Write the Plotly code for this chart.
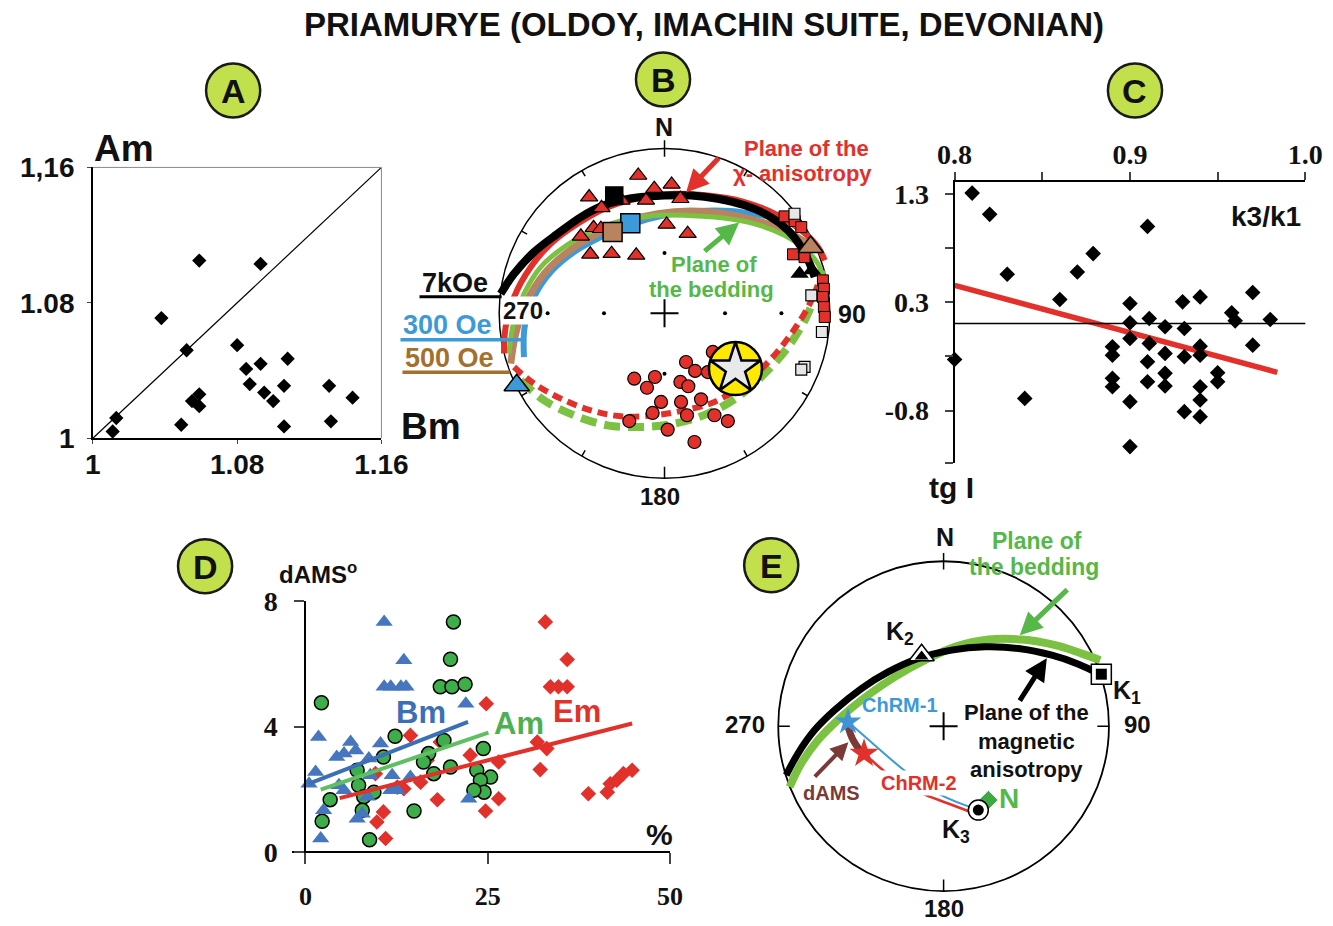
import math
import plotly.graph_objects as go

W, H = 1333, 926
SANS = "Liberation Sans, Arial, sans-serif"
SERIF = "Liberation Serif, Times New Roman, serif"

# ---------------- Panel A data (Bm vs Am) ----------------
A_bm = [1.059, 1.093, 1.038, 1.052, 1.080, 1.085, 1.093, 1.108, 1.087, 1.095, 1.106,
        1.100, 1.131, 1.144, 1.132, 1.106, 1.059, 1.055, 1.059, 1.049, 1.013, 1.011]
A_am = [1.105, 1.103, 1.071, 1.052, 1.055, 1.041, 1.044, 1.047, 1.032, 1.027, 1.031,
        1.022, 1.031, 1.024, 1.010, 1.007, 1.026, 1.022, 1.019, 1.008, 1.012, 1.004]
A_diag = [1.0, 1.16]
A_ticks = [1.0, 1.08, 1.16]
A_xlabels = ["1", "1.08", "1.16"]
A_ylabels = ["1", "1.08", "1,16"]

# ---------------- Panel C data (k3/k1 vs tg I) ----------------
C_k = [0.810, 0.820, 0.910, 0.879, 0.870, 0.830, 0.860, 0.900, 0.940, 0.970, 0.930,
       0.958, 0.960, 0.980, 0.900, 0.911, 0.920, 0.931, 0.900, 0.911, 0.890, 0.940,
       0.970, 0.920, 0.931, 0.940, 0.890, 0.910, 0.800, 0.950, 0.920, 0.890, 0.890,
       0.910, 0.920, 0.950, 0.940, 0.940, 0.900, 0.931, 0.940, 0.840, 0.900]
C_tg = [1.306, 1.110, 0.999, 0.748, 0.579, 0.558, 0.325, 0.288, 0.349, 0.389, 0.303,
        0.202, 0.128, 0.140, 0.110, 0.150, 0.073, 0.058, -0.034, -0.080, -0.111, -0.105,
        -0.096, -0.172, -0.203, -0.188, -0.188, -0.249, -0.228, -0.350, -0.356, -0.402, -0.479,
        -0.433, -0.473, -0.433, -0.479, -0.602, -0.617, -0.709, -0.755, -0.587, -1.031]
C_fit_x = [0.800, 0.984]
C_fit_y = [0.456, -0.347]
C_ref_y = 0.104
C_xticks = [0.8, 0.85, 0.9, 0.95, 1.0]
C_xlabels = ["0.8", "", "0.9", "", "1.0"]
C_yticks = [1.3, 0.8, 0.3, -0.2, -0.7, -1.185]
C_ylabels = ["1.3", "", "0.3", "", "-0.8", ""]

# ---------------- Panel D data (% vs dAMS) ----------------
Bm_x = [10.8, 13.5, 10.8, 11.7, 13.1, 13.8, 22.0, 1.8, 6.2, 5.3, 4.3, 6.9, 10.3, 8.7, 1.4,
        0.5, 4.6, 5.3, 8.9, 11.9, 14.4, 12.6, 11.7, 8.5, 7.8, 7.1, 2.5, 2.1, 22.4]
Bm_y = [7.34, 6.12, 5.27, 5.27, 5.27, 5.27, 4.73, 3.67, 3.51, 3.14, 3.03, 3.24, 3.46, 2.98, 2.55,
        2.18, 2.13, 1.97, 2.45, 2.45, 2.39, 1.97, 1.97, 1.76, 1.22, 1.06, 1.33, 0.43, 1.70]
Am_x = [20.3, 19.9, 18.5, 20.1, 21.9, 2.2, 12.3, 19.0, 16.9, 16.2, 17.6, 19.9, 24.4, 23.5,
        25.4, 24.0, 24.5, 23.1, 10.7, 7.1, 7.3, 9.4, 8.0, 3.4, 14.9, 7.8, 2.3, 8.8]
Am_y = [7.34, 6.15, 5.27, 5.27, 5.35, 4.76, 3.69, 3.56, 3.14, 2.87, 2.50, 2.71, 3.30, 2.61,
        2.39, 2.29, 1.91, 1.97, 3.03, 2.61, 2.13, 1.91, 1.76, 1.67, 1.31, 1.33, 0.98, 0.39]
Em_x = [32.9, 35.9, 33.6, 34.7, 35.9, 24.8, 14.4, 18.5, 31.8, 33.1, 26.5, 22.6, 16.7, 32.2,
        15.8, 13.5, 12.6, 9.6, 18.1, 26.5, 24.7, 10.7, 9.8, 11.0, 38.8, 41.4, 41.8, 42.7, 43.6, 44.8]
Em_y = [7.34, 6.14, 5.27, 5.27, 5.27, 4.73, 3.72, 3.51, 3.51, 3.30, 2.87, 3.09, 2.93, 2.63,
        2.23, 2.02, 2.07, 2.50, 1.67, 1.70, 1.31, 1.28, 0.96, 0.43, 1.86, 1.91, 2.18, 2.29, 2.50, 2.61]
Bm_fit = ([0.5, 22.3], [2.18, 4.15])
Am_fit = ([2.1, 25.1], [1.99, 3.81])
Em_fit = ([4.7, 44.8], [1.72, 4.10])
D_xticks = [0, 25, 50]
D_yticks = [0, 4, 8]

# ---------------- Panel B data (stereonet, projected x=E, y=N, unit circle) ----------------
B_tri_x = [-0.159, -0.456, -0.381, -0.304, -0.260, -0.112, -0.062, 0.043, 0.096, -0.506,
           -0.429, -0.385, -0.449, -0.320, -0.171, 0.013, 0.140]
B_tri_y = [0.836, 0.705, 0.640, 0.685, 0.685, 0.685, 0.756, 0.782, 0.695, 0.467,
           0.519, 0.513, 0.358, 0.362, 0.352, 0.539, 0.483]
B_circ_x = [0.130, 0.292, 0.185, 0.262, -0.183, -0.058, -0.106, 0.096, 0.144, -0.021,
            0.100, 0.221, -0.072, 0.136, 0.302, 0.383, -0.213, 0.019, 0.181]
B_circ_y = [-0.295, -0.234, -0.349, -0.356, -0.396, -0.386, -0.451, -0.416, -0.442, -0.537,
            -0.537, -0.521, -0.604, -0.618, -0.618, -0.653, -0.653, -0.705, -0.780]
B_rsq_x = [0.726, 0.787, 0.827, 0.777, 0.847, 0.958, 0.964, 0.958, 0.964, 0.969]
B_rsq_y = [0.588, 0.560, 0.523, 0.358, 0.341, 0.200, 0.149, 0.099, 0.038, -0.022]
B_gsq_x = [0.786, 0.888, 0.952, 0.847, 0.827]
B_gsq_y = [0.604, 0.109, -0.113, -0.325, -0.341]
B_btri_x = [0.817, 0.892]
B_btri_y = [0.240, 0.261]
B_mean_7k = (-0.304, 0.715)
B_mean_300 = (-0.207, 0.547)
B_mean_500 = (-0.314, 0.493)
B_tri_500 = (0.884, 0.402)
B_tri_300 = (-0.894, -0.436)
B_star = (0.429, -0.335)
B_grat_r = [0.366, 0.707]

B_black = ([-0.991, -0.910, -0.789, -0.647, -0.506, -0.385, -0.264, -0.142, -0.001, 0.161, 0.322,
            0.484, 0.625, 0.747, 0.827, 0.878, 0.908],
           [0.119, 0.240, 0.372, 0.483, 0.584, 0.648, 0.685, 0.705, 0.715, 0.715, 0.695,
            0.655, 0.594, 0.503, 0.402, 0.301, 0.220])
B_red = ([-0.971, -0.961, -0.910, -0.809, -0.688, -0.526, -0.344, -0.142, 0.059, 0.262, 0.464,
          0.666, 0.827, 0.928, 0.969],
         [-0.244, -0.083, 0.099, 0.281, 0.422, 0.543, 0.644, 0.701, 0.725, 0.715, 0.681,
          0.604, 0.503, 0.402, 0.321])
B_green = ([-0.941, -0.910, -0.850, -0.749, -0.607, -0.446, -0.264, -0.062, 0.140, 0.343, 0.545,
            0.726, 0.847, 0.928, 0.958],
           [-0.244, -0.042, 0.119, 0.281, 0.402, 0.493, 0.560, 0.594, 0.594, 0.580, 0.543,
            0.473, 0.392, 0.301, 0.220])
B_brown = ([-0.930, -0.900, -0.839, -0.728, -0.587, -0.425, -0.244, -0.041, 0.161, 0.363, 0.565,
            0.747, 0.868],
           [-0.305, -0.123, 0.059, 0.240, 0.372, 0.473, 0.554, 0.604, 0.620, 0.604, 0.560,
            0.493, 0.422])
B_blue = ([-0.850, -0.846, -0.789, -0.688, -0.547, -0.385, -0.203, -0.001, 0.201, 0.403, 0.585, 0.726],
          [-0.265, -0.083, 0.099, 0.251, 0.372, 0.463, 0.539, 0.594, 0.620, 0.620, 0.594, 0.564])
B_red_dash = ([-0.910, -0.789, -0.627, -0.446, -0.264, -0.062, 0.120, 0.302, 0.484, 0.646, 0.767,
               0.868, 0.928],
              [-0.325, -0.426, -0.517, -0.588, -0.624, -0.618, -0.588, -0.537, -0.426, -0.275,
               -0.123, 0.038, 0.170])
B_green_dash = ([-0.870, -0.729, -0.547, -0.345, -0.143, 0.060, 0.262, 0.443, 0.605, 0.747, 0.858,
                 0.928, 0.952],
                [-0.406, -0.527, -0.618, -0.679, -0.689, -0.669, -0.608, -0.507, -0.366, -0.204,
                 -0.022, 0.160, 0.261])

# ---------------- Panel E data ----------------
E_black = ([-0.952, -0.881, -0.780, -0.659, -0.497, -0.335, -0.154, 0.048, 0.251, 0.453, 0.655,
            0.816, 0.937],
           [-0.297, -0.166, -0.024, 0.097, 0.228, 0.329, 0.410, 0.461, 0.481, 0.471, 0.430,
            0.376, 0.319])
E_green = ([-0.931, -0.861, -0.760, -0.618, -0.457, -0.295, -0.113, 0.069, 0.271, 0.473, 0.675,
            0.836, 0.947],
           [-0.368, -0.226, -0.085, 0.057, 0.188, 0.299, 0.400, 0.481, 0.525, 0.525, 0.491,
            0.440, 0.400])
E_K1 = (0.954, 0.315)
E_K2 = (-0.133, 0.430)
E_K3 = (0.210, -0.509)
E_N = (0.271, -0.448)
E_chrm1 = (-0.578, 0.026)
E_chrm2 = (-0.481, -0.166)
E_dams = ([-0.578, -0.547, -0.507], [-0.004, -0.085, -0.145])
E_blue_path = ([-0.578, -0.406, -0.234, -0.053, 0.129, 0.210], [0.026, -0.125, -0.271, -0.398, -0.479, -0.505])
E_red_path = ([-0.481, -0.366, -0.255, -0.133, 0.028, 0.160], [-0.166, -0.267, -0.347, -0.408, -0.469, -0.519])

# ---------------- colours ----------------
RED = "#e2302a"
GREEN_L = "#7cc242"
GREEN_T = "#55b848"
BLUE_S = "#3d9ad8"
BROWN = "#b8835e"
BROWN_T = "#a2712e"
BLUE_D = "#4676bd"
GREEN_D = "#3eae4a"
LABEL_FILL = "#c2df4c"
DAMS = "#7a3a36"

# page calibration (plot area as it is rendered in the viewer window)
OX, OY = 25.3, 22.5
WE, HE = W * 0.965, H * 0.967


def PX(x):
    return (x - OX) / WE


def PY(y):
    return 1 - (y - OY) / HE


def dx(p0, p1):
    return [PX(p0), PX(p1)]


def dy(p0, p1):
    return [PY(p1), PY(p0)]


fig = go.Figure()

# ---------- Panel A ----------
fig.add_trace(go.Scatter(x=A_diag, y=A_diag, mode="lines", line=dict(color="black", width=1.2),
                         xaxis="x", yaxis="y", hoverinfo="skip"))
fig.add_trace(go.Scatter(x=A_bm, y=A_am, mode="markers", xaxis="x", yaxis="y",
                         marker=dict(symbol="diamond", size=11, color="black"), cliponaxis=False))

# ---------- Panel C ----------
fig.add_trace(go.Scatter(x=C_fit_x, y=C_fit_y, mode="lines", line=dict(color=RED, width=5.5),
                         xaxis="x3", yaxis="y3"))
fig.add_trace(go.Scatter(x=C_k, y=C_tg, mode="markers", xaxis="x3", yaxis="y3",
                         marker=dict(symbol="diamond", size=12, color="black"), cliponaxis=False))

# ---------- Panel D ----------
fig.add_trace(go.Scatter(x=Em_x, y=Em_y, mode="markers", xaxis="x4", yaxis="y4", cliponaxis=False,
                         marker=dict(symbol="diamond", size=12, color=RED)))
fig.add_trace(go.Scatter(x=Am_x, y=Am_y, mode="markers", xaxis="x4", yaxis="y4", cliponaxis=False,
                         marker=dict(symbol="circle", size=14, color=GREEN_D,
                                     line=dict(color="black", width=1.5))))
fig.add_trace(go.Scatter(x=Bm_x, y=Bm_y, mode="markers", xaxis="x4", yaxis="y4", cliponaxis=False,
                         marker=dict(symbol="triangle-up", size=15, color=BLUE_D)))
for (fx, fy), col in [(Bm_fit, "#3b6fb6"), (Am_fit, "#5fbf62"), (Em_fit, RED)]:
    fig.add_trace(go.Scatter(x=fx, y=fy, mode="lines", line=dict(color=col, width=4),
                             xaxis="x4", yaxis="y4"))


# ---------- stereonet frame helper ----------
def stereo_frame(ax, ay, tick_dirs, minor=True):
    tx, ty = [], []
    for az, inner, outer in tick_dirs:
        a = math.radians(az)
        tx += [inner * math.sin(a), outer * math.sin(a), None]
        ty += [inner * math.cos(a), outer * math.cos(a), None]
    if minor:
        for az in [30, 60, 120, 150, 210, 240, 300, 330]:
            a = math.radians(az)
            tx += [0.96 * math.sin(a), 1.0 * math.sin(a), None]
            ty += [0.96 * math.cos(a), 1.0 * math.cos(a), None]
    fig.add_trace(go.Scatter(x=tx, y=ty, mode="lines", line=dict(color="black", width=1.5),
                             xaxis=ax, yaxis=ay, hoverinfo="skip"))
    fig.add_trace(go.Scatter(x=[0], y=[0], mode="markers", xaxis=ax, yaxis=ay,
                             marker=dict(symbol="cross-thin", size=20,
                                         line=dict(color="black", width=2))))


# ---------- Panel B ----------
stereo_frame("x2", "y2", [(0, 0.95, 1.05), (180, 0.93, 1.0), (90, 0.95, 1.0)])
grat_x = [B_grat_r[0], B_grat_r[1], -B_grat_r[0], -B_grat_r[1], 0, 0, 0, 0]
grat_y = [0, 0, 0, 0, B_grat_r[0], B_grat_r[1], -B_grat_r[0], -B_grat_r[1]]
fig.add_trace(go.Scatter(x=grat_x, y=grat_y, mode="markers", xaxis="x2", yaxis="y2",
                         marker=dict(size=4, color="black")))

fig.add_trace(go.Scatter(x=B_green_dash[0], y=B_green_dash[1], mode="lines", xaxis="x2", yaxis="y2",
                         line=dict(color=GREEN_L, width=8, dash="16px,8px", shape="spline")))
fig.add_trace(go.Scatter(x=B_red_dash[0], y=B_red_dash[1], mode="lines", xaxis="x2", yaxis="y2",
                         line=dict(color=RED, width=6, dash="10px,6px", shape="spline")))
for (cx, cy), col, wd in [(B_blue, BLUE_S, 6), (B_brown, BROWN, 7), (B_green, GREEN_L, 5),
                          (B_red, RED, 6), (B_black, "black", 8)]:
    fig.add_trace(go.Scatter(x=cx, y=cy, mode="lines", xaxis="x2", yaxis="y2",
                             line=dict(color=col, width=wd, shape="spline")))

fig.add_trace(go.Scatter(x=B_circ_x, y=B_circ_y, mode="markers", xaxis="x2", yaxis="y2", cliponaxis=False,
                         marker=dict(symbol="circle", size=13, color=RED, line=dict(color="black", width=1.2))))
fig.add_trace(go.Scatter(x=B_tri_x, y=B_tri_y, mode="markers", xaxis="x2", yaxis="y2", cliponaxis=False,
                         marker=dict(symbol="triangle-up", size=15, color=RED, line=dict(color="black", width=1.2))))
fig.add_trace(go.Scatter(x=B_btri_x, y=B_btri_y, mode="markers", xaxis="x2", yaxis="y2", cliponaxis=False,
                         marker=dict(symbol="triangle-up", size=16, color="black")))
fig.add_trace(go.Scatter(x=B_rsq_x, y=B_rsq_y, mode="markers", xaxis="x2", yaxis="y2", cliponaxis=False,
                         marker=dict(symbol="square", size=11, color=RED, line=dict(color="black", width=1))))
fig.add_trace(go.Scatter(x=B_gsq_x, y=B_gsq_y, mode="markers", xaxis="x2", yaxis="y2", cliponaxis=False,
                         marker=dict(symbol="square", size=11, color="#e6e6e6", line=dict(color="black", width=1.2))))
for (px_, py_), sym, col, sz in [(B_mean_7k, "square", "black", 17), (B_mean_300, "square", BLUE_S, 19),
                                 (B_mean_500, "square", BROWN, 19), (B_tri_500, "triangle-up", BROWN, 22),
                                 (B_tri_300, "triangle-up", BLUE_S, 22)]:
    fig.add_trace(go.Scatter(x=[px_], y=[py_], mode="markers", xaxis="x2", yaxis="y2", cliponaxis=False,
                             marker=dict(symbol=sym, size=sz, color=col, line=dict(color="black", width=1.5))))
fig.add_trace(go.Scatter(x=[B_star[0]], y=[B_star[1]], mode="markers", xaxis="x2", yaxis="y2", cliponaxis=False,
                         marker=dict(symbol="circle", size=53, color="#ffe900", line=dict(color="black", width=2.5))))
fig.add_trace(go.Scatter(x=[B_star[0]], y=[B_star[1]], mode="markers", xaxis="x2", yaxis="y2", cliponaxis=False,
                         marker=dict(symbol="star", size=38, color="#e8e9eb", line=dict(color="black", width=2.5))))

# ---------- Panel E ----------
stereo_frame("x5", "y5", [(0, 0.95, 1.05), (180, 0.93, 1.0), (90, 0.93, 1.0), (270, 0.93, 1.0)], minor=False)
fig.add_trace(go.Scatter(x=E_green[0], y=E_green[1], mode="lines", xaxis="x5", yaxis="y5",
                         line=dict(color=GREEN_L, width=8, shape="spline")))
fig.add_trace(go.Scatter(x=E_black[0], y=E_black[1], mode="lines", xaxis="x5", yaxis="y5",
                         line=dict(color="black", width=7, shape="spline")))
fig.add_trace(go.Scatter(x=E_blue_path[0], y=E_blue_path[1], mode="lines", xaxis="x5", yaxis="y5",
                         line=dict(color=BLUE_S, width=2, shape="spline")))
fig.add_trace(go.Scatter(x=E_red_path[0], y=E_red_path[1], mode="lines", xaxis="x5", yaxis="y5",
                         line=dict(color=RED, width=2.5, shape="spline")))
fig.add_trace(go.Scatter(x=E_dams[0], y=E_dams[1], mode="lines", xaxis="x5", yaxis="y5",
                         line=dict(color=DAMS, width=7, shape="spline")))
fig.add_trace(go.Scatter(x=[E_N[0]], y=[E_N[1]], mode="markers", xaxis="x5", yaxis="y5",
                         marker=dict(symbol="diamond", size=15, color="#3ea843", line=dict(color="white", width=1))))
for (px_, py_), sym, sz in [(E_K2, "triangle-up", 22), (E_K1, "square", 20), (E_K3, "circle", 20)]:
    fig.add_trace(go.Scatter(x=[px_], y=[py_], mode="markers", xaxis="x5", yaxis="y5", cliponaxis=False,
                             marker=dict(symbol=sym, size=sz, color="white", line=dict(color="black", width=1.5))))
    fig.add_trace(go.Scatter(x=[px_], y=[py_ - (0.008 if sym == "triangle-up" else 0)], mode="markers",
                             xaxis="x5", yaxis="y5", cliponaxis=False,
                             marker=dict(symbol=sym, size=sz * 0.55, color="black")))
fig.add_trace(go.Scatter(x=[E_chrm1[0]], y=[E_chrm1[1]], mode="markers", xaxis="x5", yaxis="y5",
                         marker=dict(symbol="star", size=20, color="#3f93d6")))
fig.add_trace(go.Scatter(x=[E_chrm2[0]], y=[E_chrm2[1]], mode="markers", xaxis="x5", yaxis="y5",
                         marker=dict(symbol="star", size=22, color=RED)))

# ---------- axes ----------
bcx, bcy = 663.5, 313
ecx, ecy = 942, 726
bR = 175
rr = bR / 165.0
layout_axes = dict(
    xaxis=dict(domain=dx(93, 381), range=[1.0, 1.16], anchor="y", tickvals=A_ticks, ticktext=A_xlabels,
               showline=True, linecolor="black", linewidth=1.5, ticks="outside", ticklen=4,
               showgrid=False, zeroline=False,
               tickfont=dict(family=SANS, size=28, color="#111", weight=700), ticklabelstandoff=-4),
    yaxis=dict(domain=dy(167, 438), range=[1.0, 1.16], anchor="x", tickvals=A_ticks, ticktext=A_ylabels,
               showline=True, linecolor="black", linewidth=1.5, ticks="outside", ticklen=4,
               showgrid=False, zeroline=False,
               tickfont=dict(family=SANS, size=28, color="#111", weight=700), ticklabelstandoff=7),
    xaxis2=dict(domain=dx(bcx - bR, bcx + bR), range=[-rr, rr], anchor="y2", visible=False),
    yaxis2=dict(domain=dy(bcy - bR, bcy + bR), range=[-rr, rr], anchor="x2", visible=False),
    xaxis3=dict(domain=dx(953, 1303), range=[0.8, 1.0], anchor="y3", side="top",
                tickvals=C_xticks, ticktext=C_xlabels, showline=True, linecolor="black", linewidth=2,
                ticks="outside", ticklen=8, tickwidth=1.5, showgrid=False, zeroline=False,
                tickfont=dict(family=SERIF, size=28, color="#111", weight=700), ticklabelstandoff=-3),
    yaxis3=dict(domain=dy(181.7, 463), range=[-1.185, 1.407], anchor="x3",
                tickvals=C_yticks, ticktext=C_ylabels, showline=True, linecolor="black", linewidth=2,
                ticks="outside", ticklen=8, tickwidth=1.5, showgrid=False, zeroline=False,
                tickfont=dict(family=SERIF, size=28, color="#111", weight=700), ticklabelstandoff=10),
    xaxis4=dict(domain=dx(292, 669), range=[-1.8, 50], anchor="free", position=PY(852),
                tickvals=D_xticks, showline=True, linecolor="black", linewidth=2,
                ticks="outside", ticklen=11, tickwidth=2, showgrid=False, zeroline=False,
                tickfont=dict(family=SERIF, size=26, color="#111", weight=700), ticklabelstandoff=10),
    yaxis4=dict(domain=dy(601, 862), range=[-0.32, 8], anchor="free", position=PX(305),
                tickvals=D_yticks, showline=True, linecolor="black", linewidth=2,
                ticks="outside", ticklen=10, tickwidth=2, showgrid=False, zeroline=False,
                tickfont=dict(family=SERIF, size=28, color="#111", weight=700), ticklabelstandoff=11),
    xaxis5=dict(domain=dx(ecx - bR, ecx + bR), range=[-rr, rr], anchor="y5", visible=False),
    yaxis5=dict(domain=dy(ecy - bR, ecy + bR), range=[-rr, rr], anchor="x5", visible=False),
)

shapes = [
    dict(type="line", xref="x domain", yref="y domain", x0=0, x1=1, y0=1, y1=1, line=dict(color="#8a8a8a", width=1)),
    dict(type="line", xref="x domain", yref="y domain", x0=1, x1=1, y0=0, y1=1, line=dict(color="#8a8a8a", width=1)),
    dict(type="line", xref="x3 domain", yref="y3", x0=0, x1=1, y0=C_ref_y, y1=C_ref_y, line=dict(color="black", width=1.5)),
    dict(type="circle", xref="x2", yref="y2", x0=-1, x1=1, y0=-1, y1=1, line=dict(color="black", width=1.5), layer="below"),
    dict(type="circle", xref="x5", yref="y5", x0=-1, x1=1, y0=-1, y1=1, line=dict(color="black", width=1.8), layer="below"),
    dict(type="line", xref="paper", yref="paper", x0=PX(419), x1=PX(501), y0=PY(296.5), y1=PY(296.5), line=dict(color="black", width=3)),
    dict(type="line", xref="paper", yref="paper", x0=PX(400), x1=PX(524), y0=PY(339.5), y1=PY(339.5), line=dict(color=BLUE_S, width=3.5)),
    dict(type="line", xref="paper", yref="paper", x0=PX(402), x1=PX(509), y0=PY(372), y1=PY(372), line=dict(color=BROWN_T, width=3.5)),
]

LETTERS = [("A", 233, 90), ("B", 662, 79), ("C", 1133, 90), ("D", 205, 566), ("E", 770, 565)]
for letter, cx, cy in LETTERS:
    r = 27
    shapes.append(dict(type="circle", xref="paper", yref="paper", x0=PX(cx - r), x1=PX(cx + r),
                       y0=PY(cy + r), y1=PY(cy - r), fillcolor=LABEL_FILL, line=dict(color="#1a1a1a", width=2.5)))

ann = []


def T(text, x, y, size, color="#111", family=SANS, xanchor="center", weight=700, **kw):
    ann.append(dict(text=text, x=PX(x), y=PY(y), xref="paper", yref="paper", showarrow=False,
                    xanchor=xanchor, yanchor="middle",
                    font=dict(family=family, size=size, color=color, weight=weight), **kw))


def ARROW(tipx, tipy, tailx, taily, color, width=5):
    ann.append(dict(text="", x=PX(tipx), y=PY(tipy), xref="paper", yref="paper", showarrow=True,
                    ax=tailx - tipx, ay=taily - tipy, axref="pixel", ayref="pixel",
                    arrowhead=2, arrowsize=0.9, arrowwidth=width, arrowcolor=color))


T("PRIAMURYE (OLDOY, IMACHIN SUITE, DEVONIAN)", 703, 24, 33)
for letter, cx, cy in LETTERS:
    T(letter, cx, cy + 1, 34)

# A labels
T("Am", 124, 148, 37)
T("Bm", 430, 426, 37)
# B labels
T("N", 663, 127, 25)
T("270", 522, 310, 24, bgcolor="white", borderpad=0)
T("90", 851, 314, 25)
T("180", 659, 496, 24)
T("7kOe", 454, 283, 27)
T("300 Oe", 447, 325, 27, color=BLUE_S)
T("500 Oe", 449, 358, 27, color=BROWN_T)
T("Plane of the", 805, 148, 22, color=RED)
T("χ- anisotropy", 801, 173, 22, color=RED)
T("Plane of", 713, 264, 22, color=GREEN_T)
T("the bedding", 710, 289, 22, color=GREEN_T)
ARROW(685, 192, 719, 156, RED, 5)
ARROW(738, 222, 702, 252, GREEN_T, 5)
# C labels
T("k3/k1", 1264, 216, 28)
T("tg I", 950, 487, 30)
# D labels
T("dAMS<sup>o</sup>", 318, 573, 24)
T("%", 658, 834, 30)
T("Bm", 420, 712, 31, color="#3b6fb6")
T("Am", 518, 723, 31, color="#4cb050")
T("Em", 576, 711, 31, color=RED)
# E labels
T("N", 943, 537, 25)
T("270", 744, 724, 24)
T("90", 1136, 724, 24)
T("180", 942, 908, 24)
T("K<sub>2</sub>", 898, 633, 25)
T("K<sub>1</sub>", 1125, 692, 25)
T("K<sub>3</sub>", 954, 831, 25)
T("ChRM-1", 898, 705, 20, color=BLUE_S)
T("ChRM-2", 917, 783, 20, color=RED, bgcolor="white")
T("dAMS", 830, 793, 20, color=DAMS)
T("Plane of the<br>magnetic<br>anisotropy", 1025, 741, 22)
T("Plane of", 1035, 541, 23, color=GREEN_T)
T("the bedding", 1032, 567, 23, color=GREEN_T)
T("N", 1007, 798, 28, color=GREEN_T)
ARROW(1018, 635, 1067, 588, GREEN_T, 5)
ARROW(1045, 658, 1017, 702, "black", 5)
ARROW(847, 742, 812, 778, DAMS, 4)

fig.update_layout(
    width=W, height=H, autosize=False, margin=dict(l=0, r=0, t=0, b=0),
    paper_bgcolor="white", plot_bgcolor="rgba(0,0,0,0)", showlegend=False,
    shapes=shapes, annotations=ann, hovermode=False,
    **layout_axes,
)

fig.write_html("out.html")
